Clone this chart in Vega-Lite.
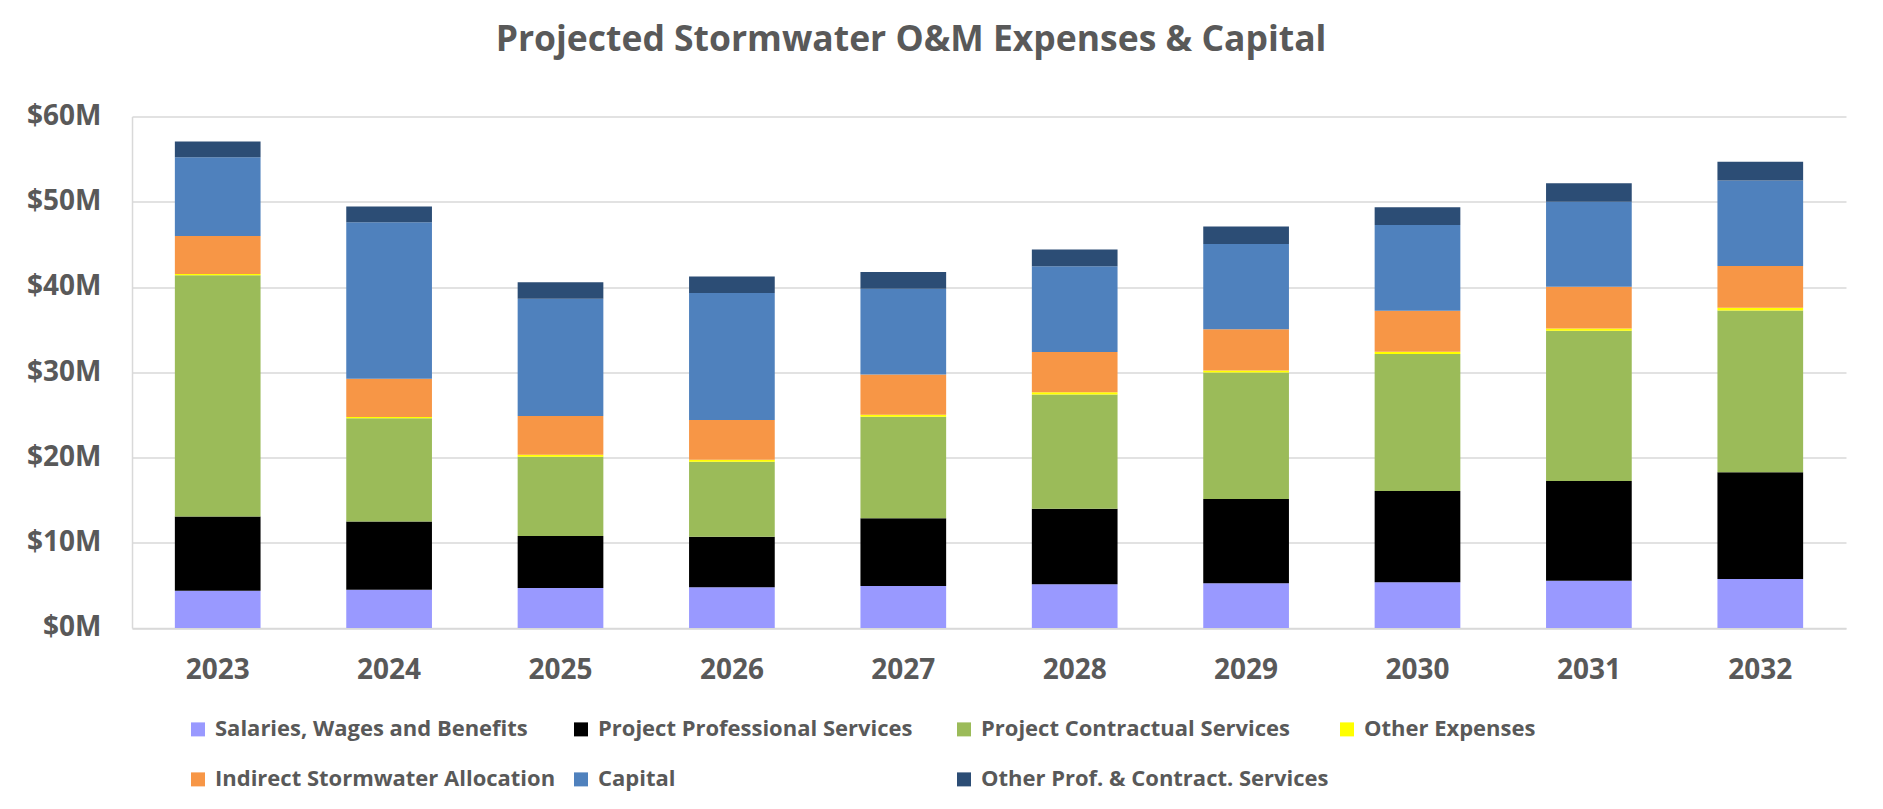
{
  "$schema": "https://vega.github.io/schema/vega-lite/v6.json",
  "autosize": {"type": "none"},
  "width": 1714,
  "height": 511.5,
  "padding": {"left": 132, "top": 116.4, "right": 37, "bottom": 181},
  "background": "white",
  "title": {
    "text": "Projected Stormwater O&M Expenses & Capital",
    "anchor": "middle",
    "dx": -78,
    "offset": 44,
    "font": "Open Sans",
    "fontSize": 35.5,
    "fontWeight": "bold",
    "color": "#595959"
  },
  "config": {
    "view": {"stroke": null},
    "font": "Open Sans"
  },
  "data": {
    "values": [
      {"year": "2023", "category": "Salaries, Wages and Benefits", "value": 4.36},
      {"year": "2023", "category": "Project Professional Services", "value": 8.71},
      {"year": "2023", "category": "Project Contractual Services", "value": 28.3},
      {"year": "2023", "category": "Other Expenses", "value": 0.15},
      {"year": "2023", "category": "Indirect Stormwater Allocation", "value": 4.45},
      {"year": "2023", "category": "Capital", "value": 9.25},
      {"year": "2023", "category": "Other Prof. & Contract. Services", "value": 1.85},
      {"year": "2024", "category": "Salaries, Wages and Benefits", "value": 4.48},
      {"year": "2024", "category": "Project Professional Services", "value": 8.0},
      {"year": "2024", "category": "Project Contractual Services", "value": 12.1},
      {"year": "2024", "category": "Other Expenses", "value": 0.15},
      {"year": "2024", "category": "Indirect Stormwater Allocation", "value": 4.5},
      {"year": "2024", "category": "Capital", "value": 18.35},
      {"year": "2024", "category": "Other Prof. & Contract. Services", "value": 1.85},
      {"year": "2025", "category": "Salaries, Wages and Benefits", "value": 4.69},
      {"year": "2025", "category": "Project Professional Services", "value": 6.08},
      {"year": "2025", "category": "Project Contractual Services", "value": 9.3},
      {"year": "2025", "category": "Other Expenses", "value": 0.25},
      {"year": "2025", "category": "Indirect Stormwater Allocation", "value": 4.55},
      {"year": "2025", "category": "Capital", "value": 13.74},
      {"year": "2025", "category": "Other Prof. & Contract. Services", "value": 1.93},
      {"year": "2026", "category": "Salaries, Wages and Benefits", "value": 4.78},
      {"year": "2026", "category": "Project Professional Services", "value": 5.9},
      {"year": "2026", "category": "Project Contractual Services", "value": 8.8},
      {"year": "2026", "category": "Other Expenses", "value": 0.25},
      {"year": "2026", "category": "Indirect Stormwater Allocation", "value": 4.65},
      {"year": "2026", "category": "Capital", "value": 14.9},
      {"year": "2026", "category": "Other Prof. & Contract. Services", "value": 1.93},
      {"year": "2027", "category": "Salaries, Wages and Benefits", "value": 4.9},
      {"year": "2027", "category": "Project Professional Services", "value": 7.96},
      {"year": "2027", "category": "Project Contractual Services", "value": 11.9},
      {"year": "2027", "category": "Other Expenses", "value": 0.25},
      {"year": "2027", "category": "Indirect Stormwater Allocation", "value": 4.7},
      {"year": "2027", "category": "Capital", "value": 10.06},
      {"year": "2027", "category": "Other Prof. & Contract. Services", "value": 1.97},
      {"year": "2028", "category": "Salaries, Wages and Benefits", "value": 5.11},
      {"year": "2028", "category": "Project Professional Services", "value": 8.88},
      {"year": "2028", "category": "Project Contractual Services", "value": 13.4},
      {"year": "2028", "category": "Other Expenses", "value": 0.25},
      {"year": "2028", "category": "Indirect Stormwater Allocation", "value": 4.73},
      {"year": "2028", "category": "Capital", "value": 10.06},
      {"year": "2028", "category": "Other Prof. & Contract. Services", "value": 1.97},
      {"year": "2029", "category": "Salaries, Wages and Benefits", "value": 5.24},
      {"year": "2029", "category": "Project Professional Services", "value": 9.88},
      {"year": "2029", "category": "Project Contractual Services", "value": 14.83},
      {"year": "2029", "category": "Other Expenses", "value": 0.25},
      {"year": "2029", "category": "Indirect Stormwater Allocation", "value": 4.82},
      {"year": "2029", "category": "Capital", "value": 10.02},
      {"year": "2029", "category": "Other Prof. & Contract. Services", "value": 2.05},
      {"year": "2030", "category": "Salaries, Wages and Benefits", "value": 5.36},
      {"year": "2030", "category": "Project Professional Services", "value": 10.69},
      {"year": "2030", "category": "Project Contractual Services", "value": 16.08},
      {"year": "2030", "category": "Other Expenses", "value": 0.25},
      {"year": "2030", "category": "Indirect Stormwater Allocation", "value": 4.82},
      {"year": "2030", "category": "Capital", "value": 10.06},
      {"year": "2030", "category": "Other Prof. & Contract. Services", "value": 2.09},
      {"year": "2031", "category": "Salaries, Wages and Benefits", "value": 5.53},
      {"year": "2031", "category": "Project Professional Services", "value": 11.69},
      {"year": "2031", "category": "Project Contractual Services", "value": 17.64},
      {"year": "2031", "category": "Other Expenses", "value": 0.25},
      {"year": "2031", "category": "Indirect Stormwater Allocation", "value": 4.9},
      {"year": "2031", "category": "Capital", "value": 9.98},
      {"year": "2031", "category": "Other Prof. & Contract. Services", "value": 2.18},
      {"year": "2032", "category": "Salaries, Wages and Benefits", "value": 5.74},
      {"year": "2032", "category": "Project Professional Services", "value": 12.53},
      {"year": "2032", "category": "Project Contractual Services", "value": 18.97},
      {"year": "2032", "category": "Other Expenses", "value": 0.3},
      {"year": "2032", "category": "Indirect Stormwater Allocation", "value": 4.9},
      {"year": "2032", "category": "Capital", "value": 10.05},
      {"year": "2032", "category": "Other Prof. & Contract. Services", "value": 2.18}
    ]
  },
  "transform": [
    {"calculate": "indexof(['Salaries, Wages and Benefits', 'Project Professional Services', 'Project Contractual Services', 'Other Expenses', 'Indirect Stormwater Allocation', 'Capital', 'Other Prof. & Contract. Services'], datum.category)", "as": "stackOrder"}
  ],
  "mark": {"type": "bar"},
  "encoding": {
    "x": {
      "field": "year",
      "type": "ordinal",
      "scale": {"paddingInner": 0.5, "paddingOuter": 0.25},
      "axis": {
        "title": null,
        "labelAngle": 0,
        "labelFont": "Open Sans",
        "labelFontSize": 28,
        "labelFontWeight": "bold",
        "labelColor": "#595959",
        "labelPadding": 29,
        "ticks": false,
        "domainColor": "#D9D9D9",
        "domainWidth": 1.5
      }
    },
    "y": {
      "field": "value",
      "type": "quantitative",
      "stack": "zero",
      "scale": {"domain": [0, 60], "nice": false},
      "axis": {
        "title": null,
        "values": [0, 10, 20, 30, 40, 50, 60],
        "labelExpr": "'$' + datum.value + 'M'",
        "labelFont": "Open Sans",
        "labelFontSize": 28,
        "labelFontWeight": "bold",
        "labelColor": "#595959",
        "labelPadding": 31,
        "ticks": false,
        "domain": true,
        "domainColor": "#D9D9D9",
        "domainWidth": 1.5,
        "gridColor": "#D9D9D9",
        "gridWidth": 1.5
      }
    },
    "order": {"field": "stackOrder", "type": "quantitative", "sort": "ascending"},
    "color": {
      "field": "category",
      "type": "nominal",
      "sort": [
        "Salaries, Wages and Benefits",
        "Project Professional Services",
        "Project Contractual Services",
        "Other Expenses",
        "Indirect Stormwater Allocation",
        "Capital",
        "Other Prof. & Contract. Services"
      ],
      "scale": {
        "domain": [
          "Salaries, Wages and Benefits",
          "Project Professional Services",
          "Project Contractual Services",
          "Other Expenses",
          "Indirect Stormwater Allocation",
          "Capital",
          "Other Prof. & Contract. Services"
        ],
        "range": ["#9999FF", "#000000", "#9BBB59", "#FFFF00", "#F79646", "#4F81BD", "#2C4D75"]
      },
      "legend": {
        "title": null,
        "orient": "none",
        "legendX": 55,
        "legendY": 602,
        "direction": "horizontal",
        "columns": 4,
        "gridAlign": "all",
        "columnPadding": 7,
        "rowPadding": 28,
        "padding": 0,
        "symbolType": "square",
        "symbolSize": 196,
        "symbolStrokeWidth": 0,
        "labelOffset": 6,
        "labelFont": "Open Sans",
        "labelFontSize": 22,
        "labelFontWeight": "bold",
        "labelColor": "#595959",
        "labelLimit": 0
      }
    }
  }
}
